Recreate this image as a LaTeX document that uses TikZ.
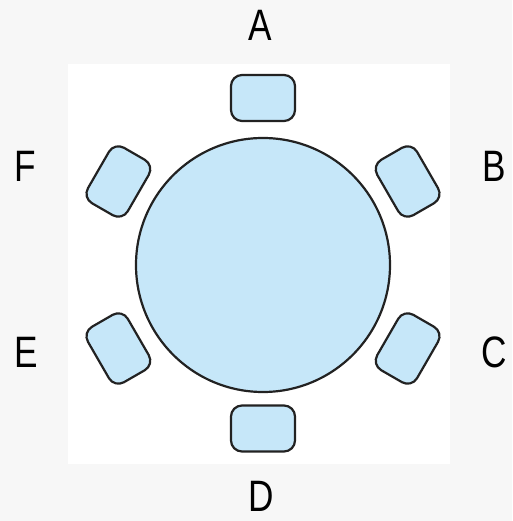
\documentclass[tikz,border=0pt]{standalone}
\usepackage{fontspec}
\setmainfont{Liberation Sans}

\definecolor{seatblue}{RGB}{198,231,249}
\definecolor{pagegray}{RGB}{247,247,247}
\definecolor{edge}{RGB}{34,34,34}

\tikzset{
  tabletop/.style={circle, draw=edge, fill=seatblue, line width=2.2pt,
    minimum size=254pt, inner sep=0pt},
  seat/.style={rectangle, draw=edge, fill=seatblue, line width=2.2pt,
    rounded corners=11pt, minimum width=64pt, minimum height=46pt, inner sep=0pt},
  lbl/.style={font=\fontsize{44}{44}\selectfont, xscale=0.8, inner sep=1pt}
}

\begin{document}
\begin{tikzpicture}[x=1pt,y=1pt]
% page and the white floor
\fill[pagegray] (-263,-256) rectangle (249,265);
\fill[white] (-195,-199) rectangle (187,201);

\node[tabletop] (table) at (0,0) {};

% chairs round the table
\foreach \ang/\name in {90/A,30/B,-30/C,210/E,150/F}{
    \node[seat, rotate=\ang-90] (seat\name) at (\ang:167) {};
}
\node[seat] (seatD) at (0,-163.5) {};

\node[lbl] (labA) at (-3,240) {A};
\node[lbl] (labB) at (231,99) {B};
\node[lbl] (labC) at (231,-87) {C};
\node[lbl] (labD) at (-1.5,-231) {D};
\node[lbl] (labE) at (-237,-87) {E};
\node[lbl] (labF) at (-238,99) {F};
\end{tikzpicture}
\end{document}
